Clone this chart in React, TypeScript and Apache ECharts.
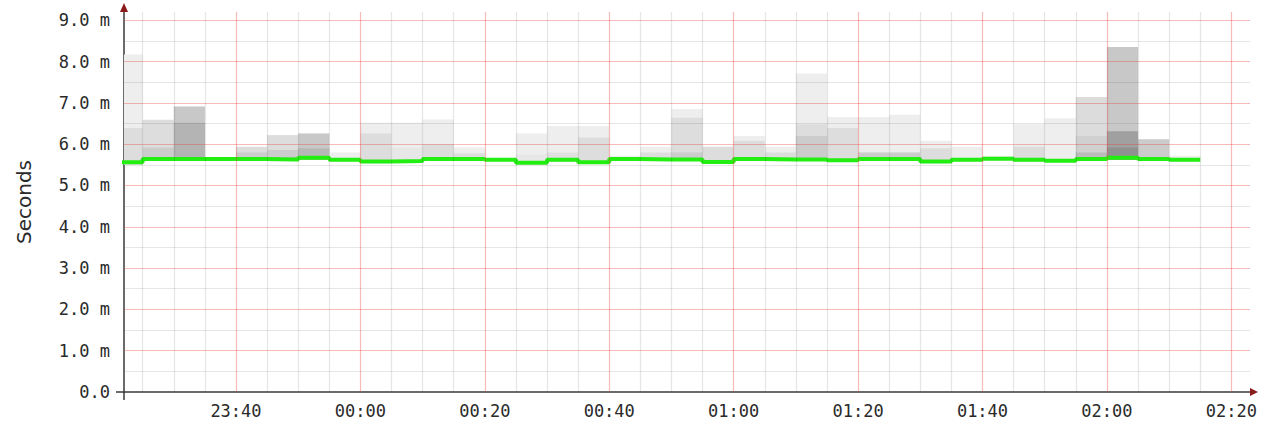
import { useEffect, useRef } from "react";
import * as echarts from "echarts";

// 5-minute buckets (start times)
const bucketStarts = [
  "23:20", "23:25", "23:30", "23:35", "23:40", "23:45", "23:50", "23:55",
  "00:00", "00:05", "00:10", "00:15", "00:20", "00:25", "00:30", "00:35",
  "00:40", "00:45", "00:50", "00:55", "01:00", "01:05", "01:10", "01:15",
  "01:20", "01:25", "01:30", "01:35", "01:40", "01:45", "01:50", "01:55",
  "02:00", "02:05", "02:10",
];
// median round-trip time (ms)
const medianMs = [
  5.56, 5.64, 5.64, 5.64, 5.64, 5.63, 5.67, 5.62,
  5.58, 5.59, 5.64, 5.64, 5.62, 5.55, 5.62, 5.56,
  5.64, 5.63, 5.63, 5.57, 5.64, 5.63, 5.63, 5.61,
  5.64, 5.64, 5.58, 5.62, 5.65, 5.62, 5.60, 5.64,
  5.67, 5.64, 5.62,
];
// lowest ping of the smoke
const smokeLow = [
  5.50, 5.60, 5.60, 5.60, 5.60, 5.59, 5.62, 5.58,
  5.54, 5.55, 5.60, 5.60, 5.58, 5.51, 5.58, 5.52,
  5.60, 5.59, 5.59, 5.53, 5.60, 5.59, 5.59, 5.57,
  5.60, 5.60, 5.54, 5.58, 5.61, 5.58, 5.56, 5.60,
  5.62, 5.60, 5.58,
];
// outer smoke band (max ping) and its density
const outerTop = [
  8.17, 6.59, 6.91, null, 5.94, 6.22, 6.26, 5.80,
  6.52, 6.52, 6.60, 5.92, null, 6.26, 6.44, 6.44,
  5.72, 5.94, 6.85, 5.94, 6.20, 5.94, 7.71, 6.66,
  6.66, 6.71, 6.08, 5.94, 5.72, 6.48, 6.63, 7.14,
  8.35, 6.12, 5.72,
];
const outerDensity = [
  17, 34, 55, 0, 34, 34, 55, 17,
  17, 17, 17, 17, 0, 17, 17, 17,
  17, 17, 17, 34, 17, 17, 17, 17,
  17, 17, 17, 17, 17, 17, 17, 35,
  55, 51, 17,
];
// middle smoke band
const midTop = [
  6.39, 5.92, 6.52, null, 5.80, 5.86, 5.90, null,
  6.26, 5.92, 6.00, 5.78, null, 5.75, 5.80, 6.16,
  null, 5.80, 6.64, null, 6.08, 5.80, 6.48, 6.39,
  5.80, 5.80, 5.90, null, null, 5.94, null, 6.20,
  6.31, null, null,
];
const midDensity = [
  34, 51, 75, 0, 51, 51, 72, 0,
  34, 24, 34, 34, 0, 24, 30, 34,
  0, 34, 34, 0, 34, 34, 34, 34,
  51, 51, 34, 0, 0, 34, 0, 47,
  95, 0, 0,
];
// inner smoke band
const innerTop = [
  null, null, null, null, null, null, null, null,
  null, null, null, null, null, null, null, null,
  null, null, 5.80, null, null, null, 6.20, null,
  null, null, null, null, null, null, null, 5.80,
  5.92, null, null,
];
const innerDensity = [
  0, 0, 0, 0, 0, 0, 0, 0,
  0, 0, 0, 0, 0, 0, 0, 0,
  0, 0, 51, 0, 0, 0, 51, 0,
  0, 0, 0, 0, 0, 0, 0, 68,
  111, 0, 0,
];

const xTickLabels = ["23:40", "00:00", "00:20", "00:40", "01:00", "01:20", "01:40", "02:00", "02:20"];
const yTickLabels = ["0.0", "1.0 m", "2.0 m", "3.0 m", "4.0 m", "5.0 m", "6.0 m", "7.0 m", "8.0 m", "9.0 m"];

const X_START = "23:22";
const X_END = "02:23";
const STEP = 5;
const Y_MAX = 9.2;

function toMin(t: string): number {
  const [h, m] = t.split(":").map(Number);
  return (h < 12 ? h + 24 : h) * 60 + m;
}

export default function App() {
  const ref = useRef<HTMLDivElement>(null);

  useEffect(() => {
    if (!ref.current) return;
    const chart = echarts.init(ref.current, undefined, { renderer: "svg" });
    const xMin = toMin(X_START);
    const xMax = toMin(X_END);

    const smokeData = bucketStarts.map((t, i) => {
      const s = toMin(t);
      const nz = (v: number | null) => (v == null ? "-" : v);
      return [s, s + STEP, smokeLow[i], nz(outerTop[i]), outerDensity[i], nz(midTop[i]), midDensity[i], nz(innerTop[i]), innerDensity[i]];
    });

    const medianData: number[][] = bucketStarts.map((t, i) => [toMin(t), medianMs[i]]);
    const last = bucketStarts.length - 1;
    medianData.push([toMin(bucketStarts[last]) + STEP, medianMs[last]]);

    const red = "rgba(235,60,60,0.36)";
    const gray = "rgba(60,60,60,0.13)";
    const gridLines: any[] = [];
    for (let m = Math.ceil(xMin / 5) * 5; m <= xMax; m += 5) {
      if (m === xMin) continue;
      gridLines.push({ xAxis: m, lineStyle: { color: m % 20 === 0 ? red : gray, width: 1.2 } });
    }
    for (let k = 1; k * 0.5 <= Y_MAX; k++) {
      gridLines.push({ yAxis: k * 0.5, lineStyle: { color: k % 2 === 0 ? red : gray, width: 1.2 } });
    }

    const axisColor = "#3a3a3a";
    const monoFont = "'DejaVu Sans Mono', monospace";
    const xTickValues = xTickLabels.map(toMin);

    chart.setOption({
      animation: false,
      backgroundColor: "#ffffff",
      grid: { left: 124, right: 21, top: 12, bottom: 38, containLabel: false },
      xAxis: {
        type: "value",
        min: xMin,
        max: xMax,
        splitLine: { show: false },
        axisLine: { show: true, onZero: true, lineStyle: { color: axisColor, width: 1.5 } },
        axisTick: { show: true, customValues: [xMin], length: 8, lineStyle: { color: axisColor, width: 1.5 } },
        axisLabel: {
          show: true,
          customValues: xTickValues,
          formatter: (v: number) => {
            const idx = xTickValues.indexOf(Math.round(v));
            return idx >= 0 ? xTickLabels[idx] : "";
          },
          fontFamily: monoFont,
          fontSize: 17,
          color: "#2a2a2a",
          margin: 10,
        },
      },
      yAxis: {
        type: "value",
        min: 0,
        max: Y_MAX,
        name: "Seconds",
        nameLocation: "middle",
        nameRotate: 90,
        nameGap: 90,
        nameTextStyle: { fontFamily: "'DejaVu Sans', sans-serif", fontSize: 20, color: "#2a2a2a" },
        splitLine: { show: false },
        axisLine: { show: true, lineStyle: { color: axisColor, width: 1.5 } },
        axisTick: { show: true, customValues: [0], length: 8, lineStyle: { color: axisColor, width: 1.5 } },
        axisLabel: {
          show: true,
          customValues: yTickLabels.map((l) => parseFloat(l)),
          formatter: (v: number) => {
            const idx = Math.round(v);
            return yTickLabels[idx] ?? "";
          },
          fontFamily: monoFont,
          fontSize: 17,
          color: "#2a2a2a",
          margin: 14,
        },
      },
      graphic: [
        { type: "polygon", shape: { points: [[120, 12], [128, 12], [124, 3]] }, style: { fill: "#8b1a1a" }, z: 100 },
        { type: "polygon", shape: { points: [[1250, 388], [1250, 396], [1258, 392]] }, style: { fill: "#8b1a1a" }, z: 100 },
      ],
      series: [
        {
          type: "custom",
          name: "smoke",
          z: 2,
          clip: true,
          silent: true,
          encode: { x: [0, 1], y: [2, 3] },
          data: smokeData,
          renderItem: (_params: any, api: any) => {
            const s = api.value(0);
            const e = api.value(1);
            const low = api.value(2);
            const layers = [[3, 4], [5, 6], [7, 8]];
            const children: any[] = [];
            for (const [ti, di] of layers) {
              const top = api.value(ti);
              if (top == null || isNaN(top)) continue;
              const d = api.value(di);
              const p1 = api.coord([s, top]);
              const p2 = api.coord([e, low]);
              const g = Math.round(255 - d);
              children.push({
                type: "rect",
                shape: { x: p1[0], y: p1[1], width: p2[0] - p1[0], height: p2[1] - p1[1] },
                style: { fill: `rgb(${g},${g},${g})` },
              });
            }
            return { type: "group", children };
          },
        },
        {
          type: "line",
          name: "grid",
          z: 3,
          data: [],
          silent: true,
          markLine: {
            silent: true,
            symbol: ["none", "none"],
            label: { show: false },
            emphasis: { disabled: true },
            lineStyle: { type: "solid" },
            data: gridLines,
          },
        },
        {
          type: "line",
          name: "median",
          z: 4,
          step: "end",
          showSymbol: false,
          symbol: "none",
          silent: true,
          clip: true,
          data: medianData,
          lineStyle: { color: "#22ee11", width: 4 },
        },
      ],
    });
    return () => chart.dispose();
  }, []);

  return (
    <div
      ref={ref}
      style={{ position: "fixed", left: 0, top: 0, width: 1271, height: 430, background: "#fff" }}
    />
  );
}
